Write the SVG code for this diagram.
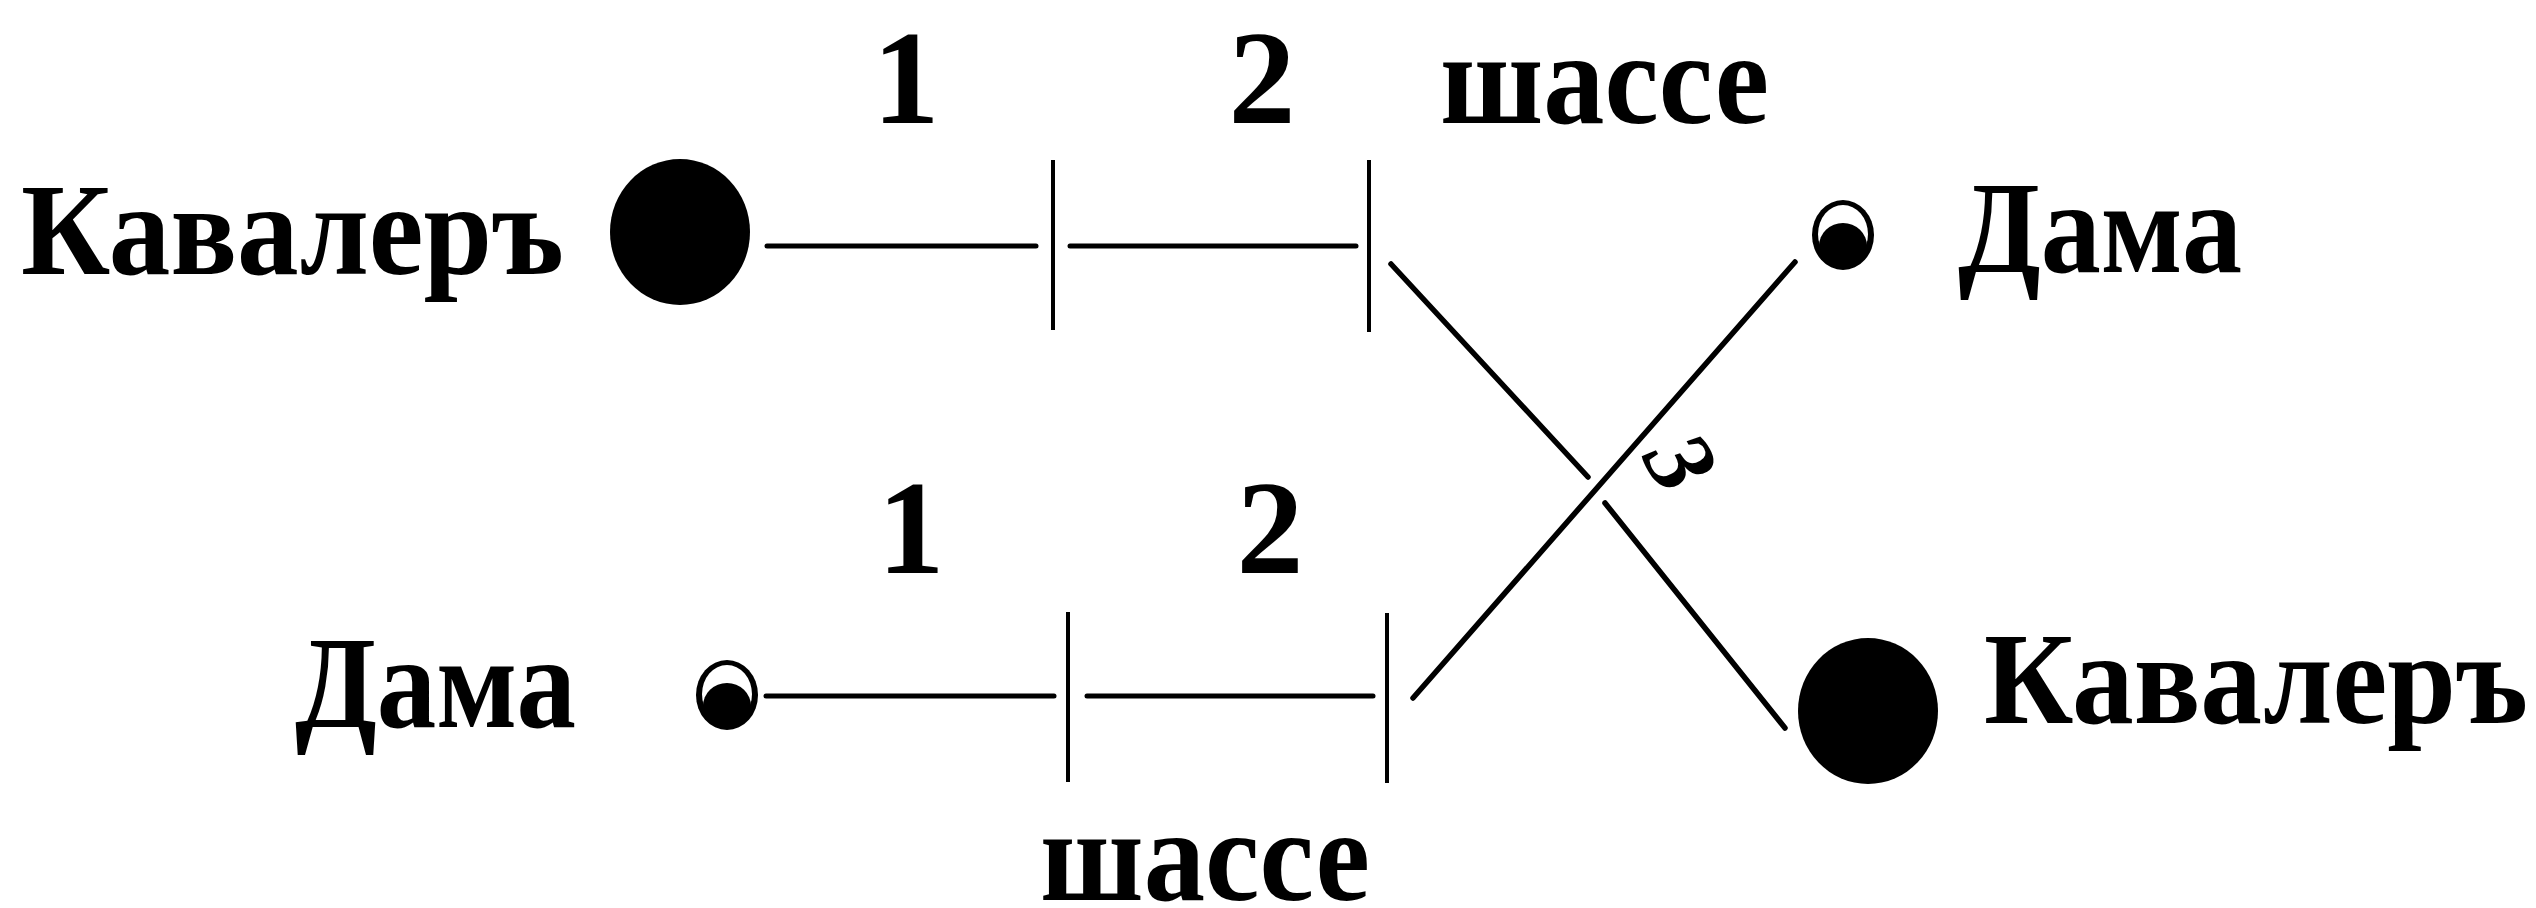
<svg xmlns="http://www.w3.org/2000/svg" width="2536" height="908" viewBox="0 0 2536 908">
  <style>
    .lbl { font-family: "Liberation Serif", "DejaVu Serif", serif; font-weight: bold; fill: #000; }
    .name { font-size: 132px; }
    .num { font-size: 134px; text-anchor: middle; }
    .line { stroke: #000; stroke-width: 5; fill: none; stroke-linecap: round; }
    .diag { stroke: #000; stroke-width: 5.5; fill: none; stroke-linecap: round; }
    .tick { stroke: #000; stroke-width: 4; fill: none; }
    .big { fill: #000; }
    .hole { fill: #fff; }
  </style>
  <rect width="2536" height="908" fill="#ffffff"/>

  <g id="connectors">
    <line class="line" x1="767" y1="246" x2="1036" y2="246"/>
    <line class="tick" x1="1053" y1="160" x2="1053" y2="330"/>
    <line class="line" x1="1070" y1="246" x2="1356" y2="246"/>
    <line class="tick" x1="1369" y1="160" x2="1369" y2="332"/>
    <line class="line" x1="766" y1="696" x2="1054" y2="696"/>
    <line class="tick" x1="1068" y1="612" x2="1068" y2="782"/>
    <line class="line" x1="1087" y1="696" x2="1373" y2="696"/>
    <line class="tick" x1="1387" y1="613" x2="1387" y2="783"/>
    <line class="diag" x1="1391" y1="264" x2="1588" y2="477"/>
    <line class="diag" x1="1605" y1="503" x2="1785" y2="728"/>
    <line class="diag" x1="1413" y1="698" x2="1795" y2="262"/>
  </g>

  <g id="label-top-1"><text class="lbl num" x="906" y="123">1</text></g>
  <g id="label-top-2"><text class="lbl num" x="1262" y="123">2</text></g>
  <g id="label-top-shasse"><text class="lbl name" x="1440" y="123" textLength="329" lengthAdjust="spacingAndGlyphs">шассе</text></g>
  <g id="label-bot-1"><text class="lbl num" x="911" y="573">1</text></g>
  <g id="label-bot-2"><text class="lbl num" x="1270" y="573">2</text></g>
  <g id="label-bot-shasse"><text class="lbl name" x="1040" y="900" textLength="330" lengthAdjust="spacingAndGlyphs">шассе</text></g>
  <g id="label-3"><text class="lbl" font-style="italic" font-size="96" text-anchor="middle" transform="translate(1681 462) rotate(60)" y="32">3</text></g>

  <g id="node-kavaler-left">
    <text class="lbl name" x="21" y="274" textLength="543" lengthAdjust="spacingAndGlyphs">Кавалеръ</text>
    <ellipse class="big" cx="680" cy="232" rx="70" ry="73"/>
  </g>
  <g id="node-dama-right">
    <ellipse class="big" cx="1843" cy="235" rx="31" ry="35"/>
    <ellipse class="hole" cx="1843" cy="234" rx="25" ry="29"/>
    <ellipse class="big" cx="1843" cy="246" rx="24" ry="23"/>
    <text class="lbl name" x="1958" y="272" textLength="284" lengthAdjust="spacingAndGlyphs">Дама</text>
  </g>
  <g id="node-dama-left">
    <text class="lbl name" x="295" y="727" textLength="281" lengthAdjust="spacingAndGlyphs">Дама</text>
    <ellipse class="big" cx="727" cy="695" rx="31" ry="35"/>
    <ellipse class="hole" cx="727" cy="694" rx="25" ry="29"/>
    <ellipse class="big" cx="727" cy="706" rx="24" ry="23"/>
  </g>
  <g id="node-kavaler-right">
    <ellipse class="big" cx="1868" cy="711" rx="70" ry="73"/>
    <text class="lbl name" x="1984" y="723" textLength="544" lengthAdjust="spacingAndGlyphs">Кавалеръ</text>
  </g>
</svg>
